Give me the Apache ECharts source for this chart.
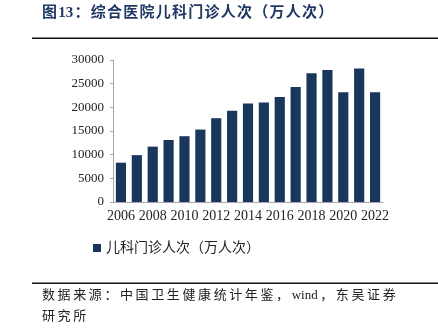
<!DOCTYPE html>
<html><head><meta charset="utf-8">
<script src="https://cdn.jsdelivr.net/npm/echarts@6/dist/echarts.min.js"></script>
<style>html,body{margin:0;padding:0;background:#fff}#c{width:438px;height:328px}</style>
</head><body><div id="c"></div>
<script>
const years = ['2006','2007','2008','2009','2010','2011','2012','2013','2014','2015','2016','2017','2018','2019','2020','2021','2022'];
const visits = [8300, 9900, 11700, 13100, 13900, 15300, 17700, 19300, 20800, 21000, 22200, 24300, 27200, 27900, 23200, 28200, 23200];
const yTicks = [0, 5000, 10000, 15000, 20000, 25000, 30000];
const seriesName = '儿科门诊人次（万人次）';
const titleText = '图13：综合医院儿科门诊人次（万人次）';
const sourceLine1 = '数据来源：中国卫生健康统计年鉴，wind，东吴证券';
const sourceLine2 = '研究所';

const spaced = (s, sp) => {
  let out = '';
  for (let i = 0; i < s.length; i++) {
    out += s[i];
    if (i < s.length - 1 && !(/[\x00-\x7f]/.test(s[i]) && /[\x00-\x7f]/.test(s[i+1]))) out += sp;
  }
  return out;
};
const serif = '"Liberation Serif", "Times New Roman", "Noto Sans CJK SC", serif';
const chart = echarts.init(document.getElementById('c'), null, {renderer: 'canvas'});
chart.setOption({
  animation: false,
  backgroundColor: '#fff',
  grid: {left: 113, right: 55, top: 60, bottom: 126, containLabel: false},
  xAxis: {
    type: 'category', data: years,
    axisLine: {lineStyle: {color: '#a6a6a6'}},
    axisTick: {show: false},
    axisLabel: {interval: 1, color: '#222', fontFamily: serif, fontSize: 14, margin: 7}
  },
  yAxis: {
    type: 'value', min: yTicks[0], max: yTicks[yTicks.length-1], interval: 5000,
    axisLine: {show: true, lineStyle: {color: '#a6a6a6'}},
    axisTick: {show: true, length: 3, lineStyle: {color: '#a6a6a6'}},
    splitLine: {show: false},
    axisLabel: {color: '#222', fontFamily: serif, fontSize: 13, margin: 9, formatter: v => String(v)}
  },
  legend: {
    top: 236, left: 88, itemWidth: 8, itemHeight: 8, icon: 'rect', itemGap: 4,
    textStyle: {fontFamily: serif, fontSize: 14, color: '#222'},
    data: [seriesName]
  },
  series: [{
    name: seriesName, type: 'bar', data: visits,
    barCategoryGap: '36%',
    itemStyle: {color: '#1b365d'}
  }],
  graphic: [
    {type: 'text', left: 42, top: 6, style: {text: spaced(titleText, '\u200A'), fill: '#1f3864', font: 'bold 15px ' + serif}},
    {type: 'rect', shape: {x: 32, y: 37.5, width: 406, height: 1.5}, style: {fill: '#111'}},
    {type: 'rect', shape: {x: 32, y: 282.5, width: 406, height: 1.5}, style: {fill: '#111'}},
    {type: 'text', left: 42, top: 289, style: {text: spaced(sourceLine1, '\u2009'), fill: '#222', font: '13px ' + serif}},
    {type: 'text', left: 42, top: 310, style: {text: spaced(sourceLine2, '\u2009'), fill: '#222', font: '13px ' + serif}}
  ]
});
</script></body></html>
